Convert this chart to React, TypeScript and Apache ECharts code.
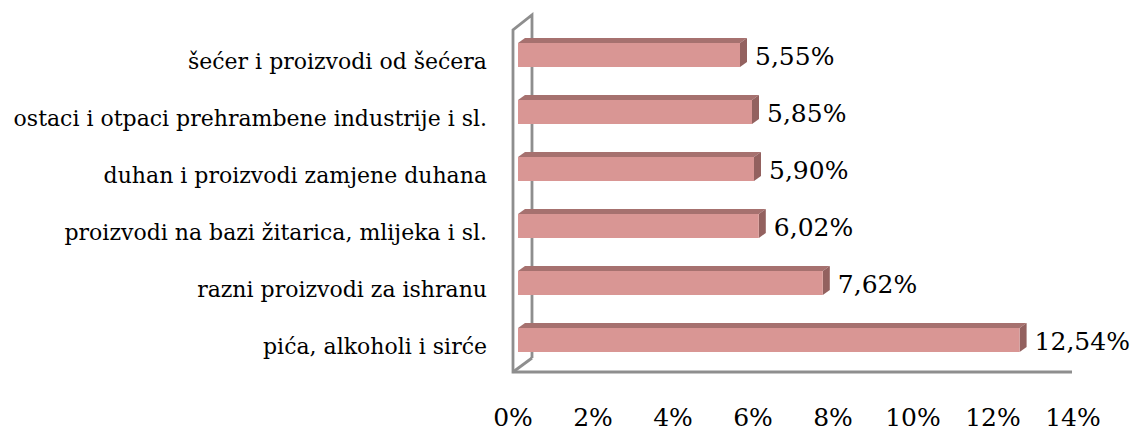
import React, { useEffect, useRef } from "react";
import * as echarts from "echarts";

const categories = [
  "pića, alkoholi i sirće",
  "razni proizvodi za ishranu",
  "proizvodi na bazi žitarica, mlijeka i sl.",
  "duhan i proizvodi zamjene duhana",
  "ostaci i otpaci prehrambene industrije i sl.",
  "šećer i proizvodi od šećera",
];
const values = [12.54, 7.62, 6.02, 5.9, 5.85, 5.55];
const xTicks = [0, 2, 4, 6, 8, 10, 12, 14];

const fmt = (v: number) => v.toFixed(2).replace(".", ",") + "%";

export default function App() {
  const ref = useRef<HTMLDivElement>(null);
  useEffect(() => {
    if (!ref.current) return;
    const chart = echarts.init(ref.current, undefined, { renderer: "svg" });
    const FRONT = "#D99694";
    const TOP = "#A6716F";
    const SIDE = "#93615F";
    const DX = 7;
    const DY = 5;
    const font = '"DejaVu Serif", serif';
    chart.setOption({
      animation: false,
      grid: { left: 518, width: 560, top: 26.5, height: 342 },
      xAxis: {
        type: "value",
        min: xTicks[0],
        max: xTicks[xTicks.length - 1],
        interval: 2,
        axisLine: { show: false },
        axisTick: { show: false },
        splitLine: { show: false },
        axisLabel: {
          formatter: "{value}%",
          color: "#000",
          fontFamily: font,
          fontSize: 25,
          margin: 36,
          padding: [0, 10, 0, 0],
        },
      },
      yAxis: {
        type: "category",
        data: categories,
        axisLine: { show: false },
        axisTick: { show: false },
        splitLine: { show: false },
        axisLabel: {
          margin: 31,
          formatter: (v: string) => `{a|${v}}`,
          rich: {
            a: {
              color: "#000",
              fontFamily: font,
              fontSize: 22,
              padding: [12, 0, 0, 0],
            },
          },
        },
      },
      graphic: [
        {
          type: "polyline",
          z: 0,
          shape: { points: [[532, 358], [532, 15], [513, 30], [513, 372], [1072, 372]] },
          style: { stroke: "#8e8e8e", lineWidth: 2.8, fill: null },
        },
        {
          type: "line",
          z: 0,
          shape: { x1: 513, y1: 372, x2: 532, y2: 358 },
          style: { stroke: "#8e8e8e", lineWidth: 2.8 },
        },
      ],
      series: [
        {
          type: "custom",
          z: 5,
          data: values.map((v, i) => [v, i]),
          encode: { x: 0, y: 1 },
          renderItem: (params: any, api: any) => {
            const v = api.value(0);
            const ci = api.value(1);
            const p0 = api.coord([0, ci]);
            const p1 = api.coord([v, ci]);
            const band = api.size([0, 1])[1];
            const h = band * 0.42;
            const top = p0[1] - h / 2;
            const bot = p0[1] + h / 2;
            const x0 = p0[0];
            const x1 = p1[0];
            return {
              type: "group",
              children: [
                {
                  type: "polygon",
                  shape: { points: [[x0, top], [x0 + DX, top - DY], [x1 + DX, top - DY], [x1, top]] },
                  style: { fill: TOP },
                },
                {
                  type: "polygon",
                  shape: { points: [[x1, top], [x1 + DX, top - DY], [x1 + DX, bot - DY], [x1, bot]] },
                  style: { fill: SIDE },
                },
                {
                  type: "rect",
                  shape: { x: x0, y: top, width: x1 - x0, height: h },
                  style: { fill: FRONT },
                },
                {
                  type: "text",
                  x: x1 + DX + 8,
                  y: p0[1] + 1,
                  style: {
                    text: fmt(v),
                    fill: "#000",
                    fontFamily: font,
                    fontSize: 25,
                    align: "left",
                    verticalAlign: "middle",
                    textAlign: "left",
                    textVerticalAlign: "middle",
                  },
                },
              ],
            };
          },
        },
      ],
    });
    return () => chart.dispose();
  }, []);
  return (
    <div
      ref={ref}
      style={{ position: "absolute", left: 0, top: 0, width: 1134, height: 431, background: "#fff" }}
    />
  );
}
